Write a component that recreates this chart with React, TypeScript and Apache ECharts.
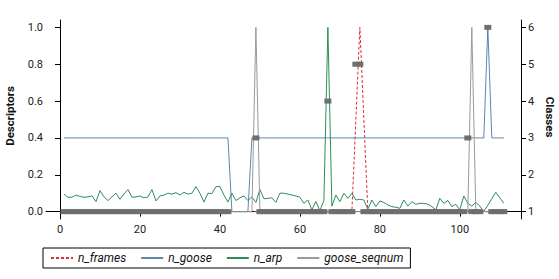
import React, { useEffect, useRef } from "react";
import * as echarts from "echarts";

// x positions 1..111
const xs: number[] = Array.from({ length: 111 }, (_, i) => i + 1);

const nArp: number[] = [
  0.095, 0.078, 0.078, 0.09, 0.082, 0.078, 0.08, 0.086, 0.054, 0.114,
  0.08, 0.06, 0.08, 0.1, 0.067, 0.096, 0.12, 0.078, 0.08, 0.085,
  0.075, 0.08, 0.12, 0.058, 0.085, 0.09, 0.1, 0.095, 0.103, 0.09,
  0.105, 0.095, 0.1, 0.136, 0.1, 0.052, 0.1, 0.098, 0.136, 0.136,
  0.09, 0.052, 0.1, 0.06, 0.075, 0.085, 0.06, 0.08, 0.05, 0.12,
  0.07, 0.072, 0.075, 0.05, 0.1, 0.1, 0.095, 0.09, 0.085, 0.078,
  0.045, 0.063, 0.01, 0.055, 0.005, 0.06, 1.0, 0.03, 0.09, 0.054,
  0.1, 0.072, 0.1, 0.063, 0.067, 0.063, 0.013, 0.063, 0.027, 0.058,
  0.05, 0.036, 0.027, 0.024, 0.018, 0.063, 0.03, 0.054, 0.04, 0.045,
  0.045, 0.04, 0.027, 0.01, 0.072, 0.045, 0.06, 0.027, 0.04, 0.01,
  0.085, 0.045, 0.03, 0.05, 0.03, 0.0, 0.035, 0.07, 0.105, 0.075,
  0.045,
];

// n_goose: 0.4 baseline, drops to 0 at 43..47, spike at 107
const nGoose: number[] = [
  0.4, 0.4, 0.4, 0.4, 0.4, 0.4, 0.4, 0.4, 0.4, 0.4,
  0.4, 0.4, 0.4, 0.4, 0.4, 0.4, 0.4, 0.4, 0.4, 0.4,
  0.4, 0.4, 0.4, 0.4, 0.4, 0.4, 0.4, 0.4, 0.4, 0.4,
  0.4, 0.4, 0.4, 0.4, 0.4, 0.4, 0.4, 0.4, 0.4, 0.4,
  0.4, 0.4, 0, 0, 0, 0, 0, 0.4, 0.4, 0.4,
  0.4, 0.4, 0.4, 0.4, 0.4, 0.4, 0.4, 0.4, 0.4, 0.4,
  0.4, 0.4, 0.4, 0.4, 0.4, 0.4, 0.4, 0.4, 0.4, 0.4,
  0.4, 0.4, 0.4, 0.4, 0.4, 0.4, 0.4, 0.4, 0.4, 0.4,
  0.4, 0.4, 0.4, 0.4, 0.4, 0.4, 0.4, 0.4, 0.4, 0.4,
  0.4, 0.4, 0.4, 0.4, 0.4, 0.4, 0.4, 0.4, 0.4, 0.4,
  0.4, 0.4, 0.4, 0.4, 0.4, 0.4, 1.0, 0.4, 0.4, 0.4,
  0.4,
];

// n_frames: zero except a peak at 75
const framesPeakX: number[] = [73, 74, 75, 76, 77];
const framesPeakV: number[] = [0, 0.5, 1.0, 0.5, 0];

// goose_seqnum: zero except spikes at 49 and 103
const seqSpikeX: number[] = [49, 103];
const seqSpikeV: number[] = [1.0, 1.0];

// classes (right axis); null = not drawn
const classSegments: [number, number, number | null][] = [
  [1, 42, 1],
  [43, 48, null],
  [49, 49, 3],
  [50, 66, 1],
  [67, 67, 4],
  [68, 73, 1],
  [74, 75, 5],
  [76, 101, 1],
  [102, 102, 3],
  [103, 105, 1],
  [106, 106, null],
  [107, 107, 6],
  [108, 111, 1],
];

const xTicks: number[] = [0, 20, 40, 60, 80, 100];
const leftTicks: number[] = [0, 0.2, 0.4, 0.6, 0.8, 1.0];
const rightTicks: number[] = [1, 2, 3, 4, 5, 6];

const FONT = "Roboto, 'Noto Sans', sans-serif";

export default function App() {
  const ref = useRef<HTMLDivElement>(null);
  useEffect(() => {
    if (!ref.current) return;
    const chart = echarts.init(ref.current, undefined, { renderer: "svg" });

    const framesData = xs.map((x) => {
      const i = framesPeakX.indexOf(x);
      return [x, i >= 0 ? framesPeakV[i] : 0];
    });
    const seqData = xs.map((x) => {
      const i = seqSpikeX.indexOf(x);
      return [x, i >= 0 ? seqSpikeV[i] : 0];
    });
    const gooseData = xs.map((x, i) => [x, nGoose[i]]);
    const arpData = xs.map((x, i) => [x, nArp[i]]);
    const classData: number[][] = [];
    classSegments.forEach(([a, b, c]) => {
      if (c === null) return;
      for (let x = a; x <= b; x++) classData.push([x, c]);
    });

    const axisCommon = {
      axisLine: { show: true, lineStyle: { color: "#000", width: 1 } },
      splitLine: { show: false },
    };

    chart.setOption({
      animation: false,
      textStyle: { fontFamily: FONT },
      grid: { left: 46, right: 38, top: 20, bottom: 60, containLabel: false },
      legend: {
        data: ["n_frames", "n_goose", "n_arp", "goose_seqnum"],
        left: 43,
        top: 248,
        orient: "horizontal",
        itemWidth: 22,
        itemHeight: 10,
        itemGap: 14,
        padding: [4, 7, 4, 7],
        borderColor: "#000",
        borderWidth: 1,
        borderRadius: 0,
        itemStyle: { opacity: 0 },
        textStyle: { fontStyle: "italic", fontSize: 12, color: "#111", fontFamily: FONT },
      },
      xAxis: {
        type: "value",
        min: -3.5,
        max: 115.3,
        ...axisCommon,
        axisTick: { show: true, length: 5, customValues: xTicks, lineStyle: { color: "#000" } },
        axisLabel: { customValues: xTicks, fontSize: 11, color: "#222", margin: 5, fontFamily: FONT },
      },
      yAxis: [
        {
          type: "value",
          min: -0.04,
          max: 1.04,
          ...axisCommon,
          axisTick: { show: true, length: 5, customValues: leftTicks, lineStyle: { color: "#000" } },
          axisLabel: {
            customValues: leftTicks,
            fontSize: 11,
            color: "#222",
            margin: 3,
            fontFamily: FONT,
            formatter: (v: number) => v.toFixed(1),
          },
        },
        {
          type: "value",
          min: 0.8,
          max: 6.2,
          position: "right",
          ...axisCommon,
          axisTick: { show: true, length: 5, customValues: rightTicks, lineStyle: { color: "#000" } },
          axisLabel: { customValues: rightTicks, fontSize: 11, color: "#222", margin: 7, fontFamily: FONT },
        },
      ],
      graphic: [
        {
          type: "text",
          x: 10,
          y: 116,
          rotation: Math.PI / 2,
          style: {
            text: "Descriptors",
            font: `bold 11.5px ${FONT}`,
            fill: "#111",
            align: "center",
            verticalAlign: "middle",
          },
        },
        {
          type: "text",
          x: 550,
          y: 117,
          rotation: -Math.PI / 2,
          style: {
            text: "Classes",
            font: `bold 11.5px ${FONT}`,
            fill: "#111",
            align: "center",
            verticalAlign: "middle",
          },
        },
      ],
      series: [
        {
          name: "n_frames",
          type: "line",
          data: framesData,
          symbol: "none",
          color: "#d8303c",
          lineStyle: { color: "#d8303c", width: 1, type: [3, 2] },
          z: 2,
        },
        {
          name: "n_goose",
          type: "line",
          data: gooseData,
          symbol: "none",
          color: "#2a5f94",
          lineStyle: { color: "#2a5f94", width: 1, opacity: 0.75 },
          z: 3,
        },
        {
          name: "n_arp",
          type: "line",
          data: arpData,
          symbol: "none",
          color: "#2f8c5a",
          lineStyle: { color: "#2f8c5a", width: 1 },
          z: 4,
        },
        {
          name: "goose_seqnum",
          type: "line",
          data: seqData,
          symbol: "none",
          color: "#9a9a9a",
          lineStyle: { color: "#9a9a9a", width: 1 },
          z: 5,
        },
        {
          name: "classes",
          type: "scatter",
          yAxisIndex: 1,
          data: classData,
          symbol: "rect",
          symbolSize: [7, 5],
          itemStyle: { color: "#6e6e6e", opacity: 1, borderWidth: 0 },
          z: 6,
        },
      ],
    });
    return () => chart.dispose();
  }, []);
  return (
    <div
      ref={ref}
      style={{ position: "fixed", left: 0, top: 0, width: 559, height: 279, background: "#fff" }}
    />
  );
}
